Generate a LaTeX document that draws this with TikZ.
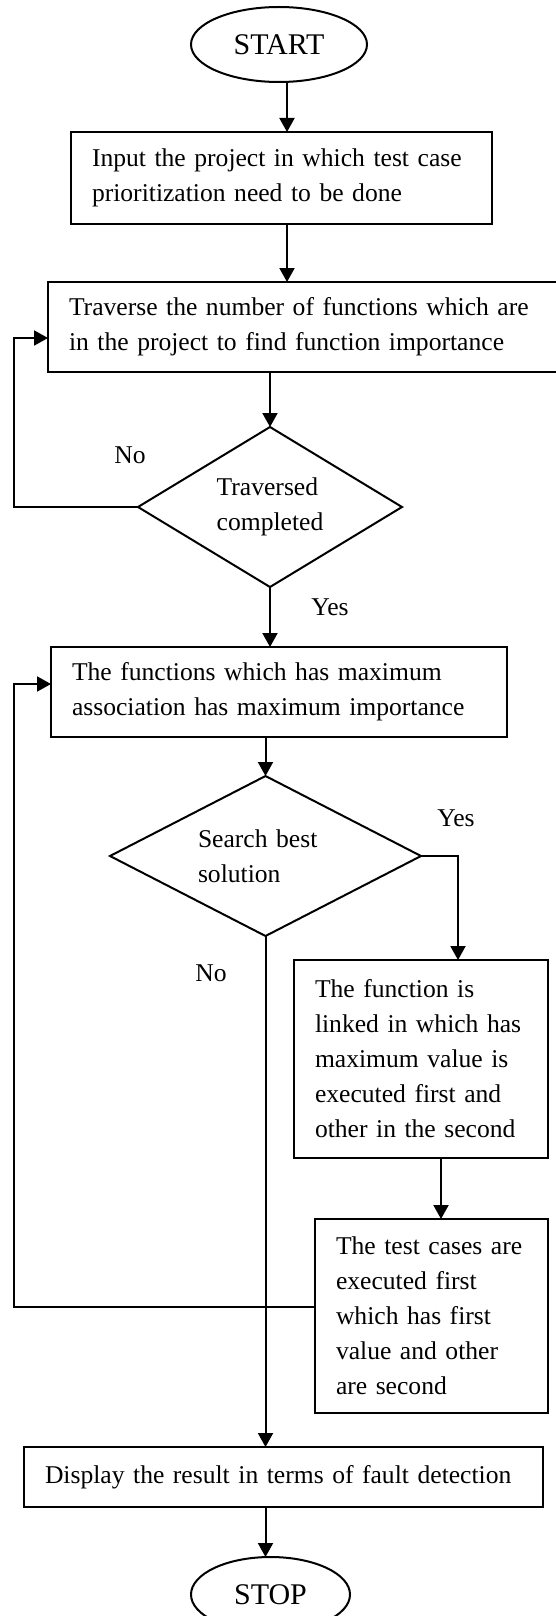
\documentclass[tikz,border=0pt]{standalone}
\usepackage{fontspec}
\setmainfont{Liberation Serif}
\usetikzlibrary{positioning,shapes.geometric,arrows.meta}
\begin{document}
\begin{tikzpicture}[x=1pt, y=-1pt, line width=2pt, every node/.style={outer sep=0pt, font=\fontsize{25.6}{35}\selectfont}, term/.style={ellipse, draw, inner sep=0pt, minimum height=75pt, font=\fontsize{30}{35}\selectfont}, stepbox/.style={rectangle, draw, align=left, inner xsep=21pt, inner ysep=4pt}, decide/.style={diamond, draw, align=left, inner sep=0pt, minimum height=160pt}, arr/.style={-{Triangle[length=14pt,width=15pt]}}]
\useasboundingbox (0,0) rectangle (556,1616);
\node(start) [term, minimum width=176pt] at (279,44.5) {START};
\node(input) [stepbox, text width=379pt, minimum height=92pt, below = 50pt of start, xshift=2.5pt] {Input the project in which test case\\prioritization need to be done};
\node(trav) [stepbox, text width=470pt, minimum height=90pt, below = 58pt of input, xshift=22.5pt] {Traverse the number of functions which are\\in the project to find function importance};
\node(travq) [decide, aspect=1.65, minimum width=264pt, below = 55pt of trav, xshift=-34pt] {Traversed\\completed};
\node(func) [stepbox, text width=414pt, minimum height=90pt, below = 60pt of travq, xshift=9pt] {The functions which has maximum\\association has maximum importance};
\node(search) [decide, aspect=1.94, text width=135pt, minimum width=311pt, below = 39pt of func, xshift=-13.5pt] {Search best\\solution};
\node(link) [stepbox, text width=212pt, minimum height=198pt, below = 24pt of search, xshift=155.5pt] {The function is\\linked in which has\\maximum value is\\executed first and\\other in the second};
\node(order) [stepbox, text width=191pt, minimum height=194pt, below = 61pt of link, xshift=10.5pt] {The test cases are\\executed first\\which has first\\value and other\\are second};
\node(disp) [stepbox, text width=477pt, minimum height=60pt, below = 34pt of order, xshift=-148pt] {Display the result in terms of fault detection};
\node(stop) [term, minimum width=159pt, below = 50pt of disp, xshift=-13pt] {STOP};
\node(no1) at (130,455) {No};
\node(yes1) at (330,607) {Yes};
\node(yes2) at (456,818) {Yes};
\node(no2) at (211,973) {No};
\coordinate(back) at (14,0);

\draw[arr] ([xshift=8pt]start.south) -- ([xshift=8pt]start.south |- input.north);
\draw[arr] ([xshift=5.5pt]input.south) -- ([xshift=5.5pt]input.south |- trav.north);
\draw[arr] (trav.south -| travq.north) -- (travq.north);
\draw[arr] (travq.west) -- (travq.west -| back) |- ([yshift=-11pt]trav.west);
\draw[arr] (travq.south) -- (travq.south |- func.north);
\draw[arr] (func.south -| search.north) -- (search.north);
\draw[arr] (search.east) -| ([xshift=37pt]link.north);
\draw[arr] (search.south) -- (search.south |- disp.north);
\draw[arr] ([xshift=20pt]link.south) -- ([xshift=20pt]link.south |- order.north);
\draw[arr] ([yshift=9pt]order.west) -- ([yshift=9pt]order.west -| back) |- ([yshift=8pt]func.west);
\draw[arr] (search.south |- disp.south) -- (search.south |- stop.north);
\end{tikzpicture}
\end{document}
